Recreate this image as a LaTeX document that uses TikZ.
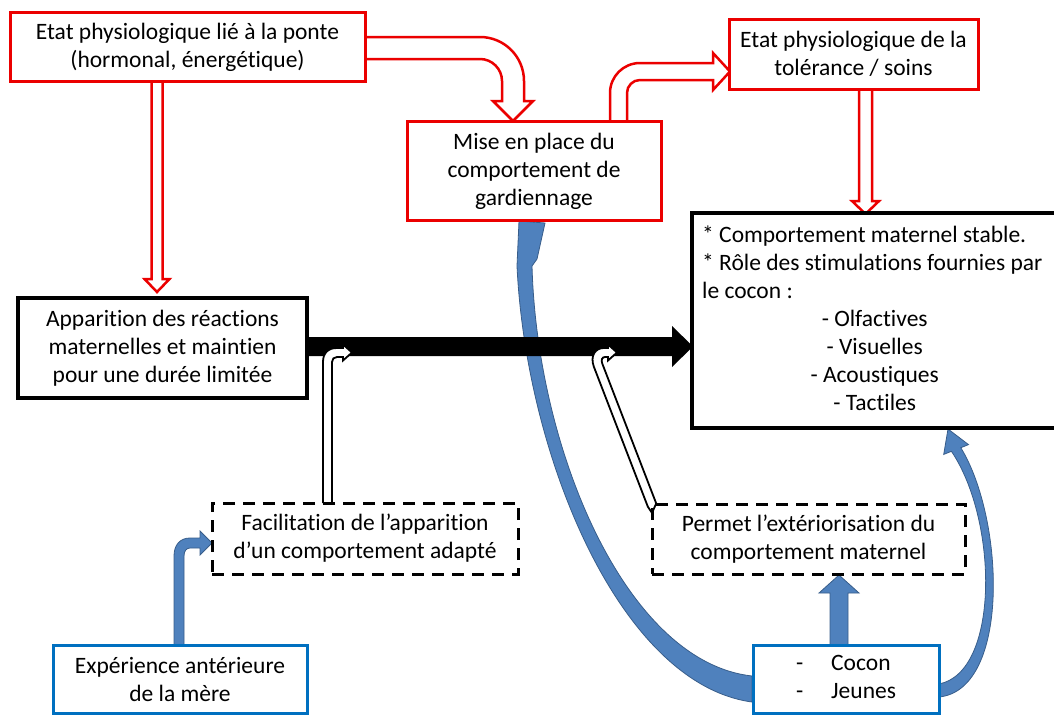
\documentclass[tikz,border=0pt]{standalone}
\usepackage{fontspec}
\setmainfont[Ligatures=NoCommon]{Carlito}
\usetikzlibrary{calc}
\pgfdeclarelayer{bg}
\pgfsetlayers{bg,main}
\definecolor{rd}{RGB}{235,0,0}
\definecolor{bfill}{RGB}{79,129,189}
\definecolor{bline}{RGB}{56,93,138}
\definecolor{bbox}{RGB}{0,112,192}
\tikzset{
  txt/.style={font=\fontsize{23.5}{28}\selectfont, inner sep=0pt, align=center},
  redbox/.style={txt, draw=rd, line width=3, fill=white},
  blkbox/.style={txt, draw=black, line width=3.5, fill=white},
  dashbox/.style={txt, draw=black, line width=3, dash pattern=on 12pt off 8pt},
  bluebox/.style={txt, draw=bbox, line width=3, fill=white},
  redarrow/.style={draw=rd, fill=white, line width=2.5, line join=miter},
  hollowblk/.style={draw=black, fill=white, line width=1.8},
  bluearrow/.style={draw=bline, fill=bfill, line width=0.8},
  blkarrow/.style={fill=black}
}
\begin{document}
\begin{tikzpicture}[x=1pt,y=-1pt]
\useasboundingbox (0,0) rectangle (1054,715);
% boxes
\node[redbox, minimum width=355, minimum height=69] (ponte) at (187.5,47) {Etat physiologique lié à la ponte\\(hormonal, énergétique)};
\node[redbox, minimum width=254, minimum height=99] (mise) at (534,171) {Mise en place du\\comportement de\\gardiennage};
\node[redbox, minimum width=249, minimum height=70] (tol) at (853.5,54) {Etat physiologique de la\\tolérance / soins};
\node[blkbox, minimum width=380, minimum height=215] (big) at (882,320.5) {};
\node[txt, anchor=north west] (bigtxt) at (702,226) {\parbox{345pt}{\raggedright {*} Comportement maternel stable.\\{*} Rôle des stimulations fournies par\\le cocon :\par\centering {-} Olfactives\\{-} Visuelles\\{-} Acoustiques\\{-} Tactiles\par}};
\node[blkbox, minimum width=289, minimum height=100] (app) at (162.5,348) {Apparition des réactions\\maternelles et maintien\\pour une durée limitée};
\node[dashbox, minimum width=306, minimum height=71] (fac) at (365,538.5) {Facilitation de l’apparition\\d’un comportement adapté};
\node[dashbox, minimum width=313, minimum height=70] (perm) at (808.5,539) {Permet l’extériorisation du\\comportement maternel};
\node[bluebox, minimum width=254, minimum height=68] (exp) at (180,679) {Expérience antérieure\\de la mère};
\node[bluebox, minimum width=186, minimum height=68] (cocon) at (846,679) {\begin{tabular}{@{}l@{\hspace{28pt}}l@{}}-&Cocon\\-&Jeunes\end{tabular}};
% arrows (behind boxes)
\begin{pgfonlayer}{bg}
% big blue curved arrow cocon -> mise
\path[bluearrow] (752,702) .. controls (620,684) and (526,456) .. (517,266) -- (519,221) -- (545,223) -- (537,259) -- (532,266) .. controls (537,450) and (626,662) .. (752,676) -- cycle;
% blue curved arrow cocon -> big
\path[bluearrow] (939,697) .. controls (1010,690) and (1005,520) .. (960.8,447.7) -- (968.5,444.6) -- (948,429) -- (943.7,454.4) -- (951.4,451.3) .. controls (998,520) and (1000,672) .. (939,684) -- cycle;
% thick black arrow app -> big
\path[blkarrow] (307,337) -- (672,337) -- (672,326) -- (693,346.5) -- (672,367) -- (672,356) -- (307,356) -- cycle;
% hollow black arrows
\path[hollowblk] (323,503) -- (323,362) .. controls (323,353) and (328,348) .. (337,348) -- (343,348) -- (343,344.5) -- (352,352.5) -- (343,360.5) -- (343,357) -- (337,357) .. controls (334,357) and (332,359) .. (332,362) -- (332,503);
\path[hollowblk] (652,513) -- (647.8,506.6) -- (593.8,366.6) .. controls (590,356) and (595,348) .. (604,348) -- (608,348) -- (608,344.5) -- (617,352.5) -- (608,360.5) -- (608,357) -- (605,357) .. controls (602,357) and (601,360) .. (602.2,363.4) -- (656.2,503.4) -- (652,513);
% red hollow arrows
\path[redarrow] (151.5,81) -- (151.5,279) -- (144.5,279) -- (157,292) -- (169.5,279) -- (162.5,279) -- (162.5,81);
\path[redarrow] (365,37) -- (480,37) .. controls (504.3,37) and (524,56.7) .. (524,81) -- (524,101) -- (533,101) -- (513,121) -- (493,101) -- (502,101) -- (502,81) .. controls (502,68.9) and (492.1,59) .. (480,59) -- (365,59);
\path[redarrow] (610,122) -- (610,93) .. controls (610,76.4) and (623.4,63) .. (640,63) -- (713,63) -- (713,53) -- (730,71.5) -- (713,90) -- (713,80) -- (640,80) .. controls (632.8,80) and (627,85.8) .. (627,93) -- (627,122);
\path[redarrow] (859,89) -- (859,201) -- (852,201) -- (865.5,214) -- (879,201) -- (872,201) -- (872,89);
% blue arrows
\path[bluearrow] (174,645) -- (174,556) .. controls (174,545) and (180,538) .. (190,538) -- (200,538) -- (200,531) -- (212,543) -- (200,555) -- (200,548) -- (190,548) .. controls (186.5,548) and (184,551) .. (184,556) -- (184,645);
\path[bluearrow] (830,645) -- (830,593) -- (819,593) -- (839,575) -- (859,593) -- (848,593) -- (848,645);
\end{pgfonlayer}
\end{tikzpicture}
\end{document}
